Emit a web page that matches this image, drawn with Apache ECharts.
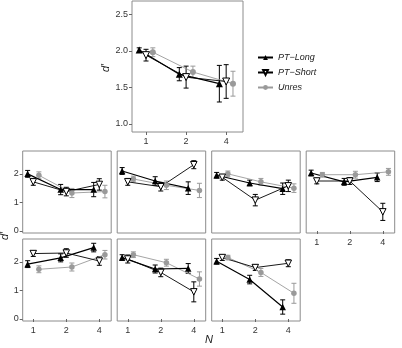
<!DOCTYPE html>
<html>
<head>
<meta charset="utf-8">
<script src="https://cdn.jsdelivr.net/npm/echarts@6/dist/echarts.min.js"></script>
<style>
  html, body { margin: 0; padding: 0; background: #fff; }
  #chart { width: 402px; height: 348px; }
</style>
</head>
<body>
<div id="chart"></div>
<script>
// x categories (set size N) and the three conditions
const nLabels = ['1', '2', '4'];
const seriesNames = ['PT\u2212Long', 'PT\u2212Short', 'Unres'];

// top panel: pooled means and error half-widths
const topLong = [2.01, 1.68, 1.55];
const topLongErr = [0.03, 0.09, 0.25];
const topShort = [1.94, 1.64, 1.58];
const topShortErr = [0.08, 0.15, 0.23];
const topUnres = [1.98, 1.71, 1.55];
const topUnresErr = [0.06, 0.08, 0.17];

// seven small panels (row by row)
const panelLong = [
  [2.0, 1.45, 1.45], [2.1, 1.75, 1.5], [1.95, 1.68, 1.48], [2.03, 1.72, 1.88],
  [1.92, 2.14, 2.5], [2.15, 1.75, 1.77], [2.02, 1.38, 0.42]
];
const panelLongErr = [
  [0.12, 0.18, 0.25], [0.12, 0.15, 0.22], [0.1, 0.1, 0.2], [0.1, 0.12, 0.15],
  [0.12, 0.14, 0.15], [0.1, 0.14, 0.17], [0.1, 0.15, 0.25]
];
const panelShort = [
  [1.72, 1.38, 1.63], [1.72, 1.55, 2.32], [1.88, 1.08, 1.58], [1.75, 1.75, 0.67],
  [2.29, 2.31, 2.03], [2.1, 1.63, 0.95], [2.15, 1.8, 1.95]
];
const panelShortErr = [
  [0.12, 0.15, 0.2], [0.12, 0.15, 0.14], [0.1, 0.2, 0.2], [0.1, 0.12, 0.3],
  [0.1, 0.15, 0.15], [0.14, 0.15, 0.35], [0.1, 0.1, 0.12]
];
const panelUnres = [
  [1.95, 1.33, 1.38], [1.82, 1.6, 1.42], [2.0, 1.72, 1.5], [1.97, 1.97, 2.07],
  [1.74, 1.82, 2.25], [2.25, 1.97, 1.4], [2.15, 1.63, 0.9]
];
const panelUnresErr = [
  [0.12, 0.16, 0.22], [0.1, 0.15, 0.25], [0.1, 0.12, 0.15], [0.08, 0.12, 0.12],
  [0.12, 0.14, 0.15], [0.1, 0.12, 0.25], [0.08, 0.14, 0.35]
];

const FONT = 'Liberation Sans';
const dodge = [-0.17, 0, 0.17];
const colors = ['#000000', '#000000', '#9a9a9a'];

const chart = echarts.init(document.getElementById('chart'), null, { renderer: 'canvas' });

const grids = [], xAxes = [], yAxes = [], series = [];

function addPanel(box, yMin, yMax, yTicks, yFmt, showX, showY, sets, symSize) {
  const gi = grids.length;
  grids.push({ left: box[0], top: box[1], width: box[2], height: box[3], show: true,
    borderColor: '#8c8c8c', borderWidth: 1, backgroundColor: '#fff' });
  xAxes.push({ gridIndex: gi, type: 'value', min: box[4], max: box[5],
    axisLine: { show: false }, splitLine: { show: false },
    axisTick: { show: showX, length: 3, lineStyle: { color: '#666' }, customValues: [1, 2, 3] },
    axisLabel: { show: showX, customValues: [1, 2, 3], margin: 5, fontFamily: FONT, fontSize: 9, color: '#333',
      formatter: v => nLabels[Math.round(v) - 1] } });
  yAxes.push({ gridIndex: gi, type: 'value', min: yMin, max: yMax,
    axisLine: { show: false }, splitLine: { show: false },
    axisTick: { show: showY, length: 3, lineStyle: { color: '#666' }, customValues: yTicks },
    axisLabel: { show: showY, customValues: yTicks, margin: 4, fontFamily: FONT, fontSize: 9, color: '#333',
      formatter: yFmt } });
  // draw order: Unres, Short, Long
  [2, 1, 0].forEach(k => {
    const vals = sets[k][0], errs = sets[k][1];
    series.push({
      type: 'custom', name: 'err' + k, xAxisIndex: gi, yAxisIndex: gi, silent: true, z: 2,
      data: vals.map((v, i) => [i + 1 + dodge[k], v - errs[i], v + errs[i]]),
      renderItem: (params, api) => {
        const top = api.coord([api.value(0), api.value(2)]);
        const bot = api.coord([api.value(0), api.value(1)]);
        const w = 2.5;
        const st = { stroke: colors[k], lineWidth: 1 };
        return { type: 'group', children: [
          { type: 'line', shape: { x1: top[0], y1: top[1], x2: bot[0], y2: bot[1] }, style: st },
          { type: 'line', shape: { x1: top[0] - w, y1: top[1], x2: top[0] + w, y2: top[1] }, style: st },
          { type: 'line', shape: { x1: bot[0] - w, y1: bot[1], x2: bot[0] + w, y2: bot[1] }, style: st }
        ] };
      }
    });
    const sym = k === 2 ? { symbol: 'circle', symbolSize: symSize - 1, symbolRotate: 0 }
      : k === 1 ? { symbol: 'triangle', symbolSize: symSize, symbolRotate: 180 }
      : { symbol: 'triangle', symbolSize: symSize, symbolRotate: 0 };
    series.push(Object.assign({
      type: 'line', name: seriesNames[k], xAxisIndex: gi, yAxisIndex: gi, z: 3,
      data: vals.map((v, i) => [i + 1 + dodge[k], v]),
      lineStyle: { color: colors[k], width: k === 0 ? 1.2 : 0.9 },
      itemStyle: k === 1 ? { color: '#fff', borderColor: '#000', borderWidth: 1 } : { color: colors[k] },
      showSymbol: true, animation: false
    }, sym));
  });
}

// top panel
addPanel([132, 1, 111, 131, 0.65, 3.42], 0.89, 2.68, [1, 1.5, 2, 2.5], v => v.toFixed(1), true, true,
  [[topLong, topLongErr], [topShort, topShortErr], [topUnres, topUnresErr]], 7);

// small panels
const colLeft = [22.7, 117.2, 211.7, 306.2];
const rowTop = [151, 239];
for (let p = 0; p < 7; p++) {
  const r = p < 4 ? 0 : 1, c = p < 4 ? p : p - 4;
  const showX = r === 1 || c === 3;
  const showY = c === 0;
  addPanel([colLeft[c], rowTop[r], 88.5, 82, 0.68, 3.36], -0.07, 2.8, [0, 1, 2], v => String(v), showX, showY,
    [[panelLong[p], panelLongErr[p]], [panelShort[p], panelShortErr[p]], [panelUnres[p], panelUnresErr[p]]], 6.5);
}

chart.setOption({
  animation: false,
  backgroundColor: '#fff',
  grid: grids,
  xAxis: xAxes,
  yAxis: yAxes,
  series: series,
  legend: {
    data: seriesNames, orient: 'vertical', left: 252, top: 48, itemGap: 6,
    itemWidth: 15, itemHeight: 6,
    textStyle: { fontFamily: FONT, fontSize: 9, fontStyle: 'italic', color: '#222' }
  },
  graphic: [
    { type: 'text', x: 106, y: 68, rotation: Math.PI / 2,
      style: { text: 'd\u2032', font: 'italic 11px "Liberation Sans"', fill: '#222', textAlign: 'center', textVerticalAlign: 'middle' } },
    { type: 'text', x: 5, y: 236, rotation: Math.PI / 2,
      style: { text: 'd\u2032', font: 'italic 11px "Liberation Sans"', fill: '#222', textAlign: 'center', textVerticalAlign: 'middle' } },
    { type: 'text', x: 209, y: 340,
      style: { text: 'N', font: 'italic 11px "Liberation Sans"', fill: '#222', textAlign: 'center', textVerticalAlign: 'middle' } }
  ]
});
</script>
</body>
</html>
